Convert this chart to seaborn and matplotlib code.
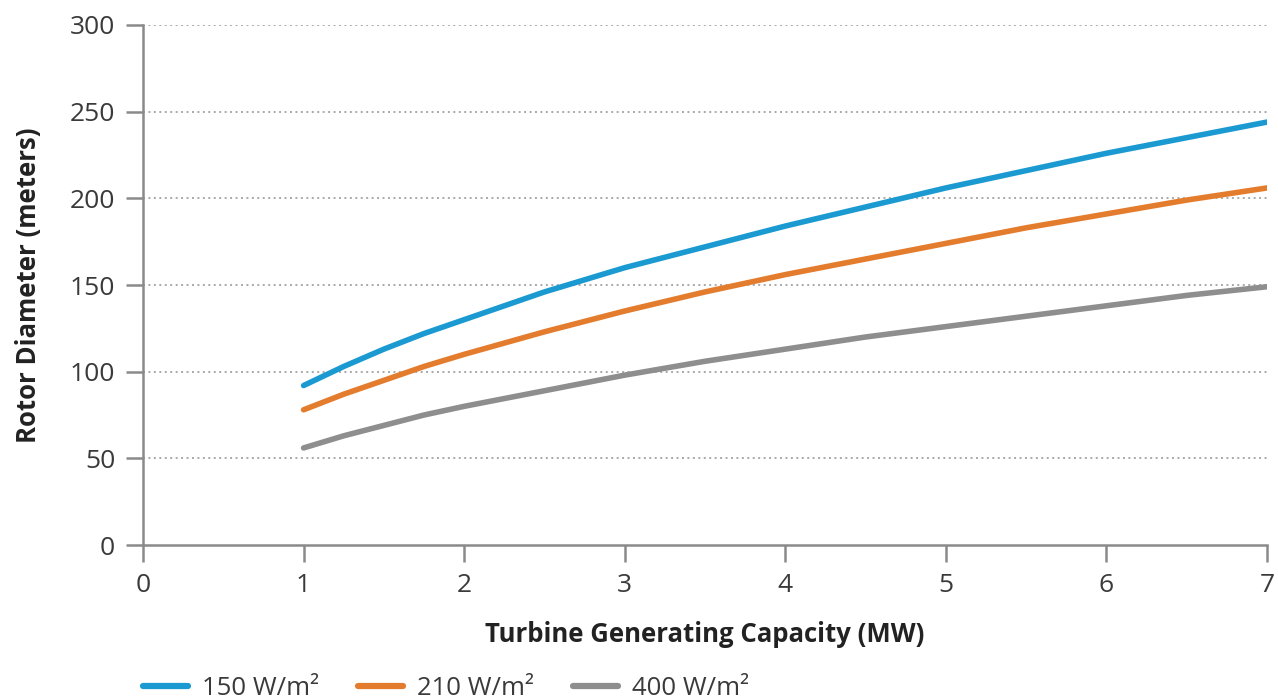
import matplotlib
matplotlib.use("Agg")
import matplotlib.pyplot as plt
import seaborn as sns
import pandas as pd

capacity = [1, 1.25, 1.5, 1.75, 2, 2.5, 3, 3.5, 4, 4.5, 5, 5.5, 6, 6.5, 7]
d150 = [92, 103, 113, 122, 130, 146, 160, 172, 184, 195, 206, 216, 226, 235, 244]
d210 = [78, 87, 95, 103, 110, 123, 135, 146, 156, 165, 174, 183, 191, 199, 206]
d400 = [56, 63, 69, 75, 80, 89, 98, 106, 113, 120, 126, 132, 138, 144, 149]
series_labels = ["150 W/m²", "210 W/m²", "400 W/m²"]
colors = ["#1b9ad2", "#e47c2e", "#8e8e8e"]
x_ticks = [0, 1, 2, 3, 4, 5, 6, 7]
y_ticks = [0, 50, 100, 150, 200, 250, 300]

sns.set_theme(style="white")
plt.rcParams['font.family'] = ['Open Sans', 'DejaVu Sans']

df = pd.DataFrame({
    "x": capacity * 3,
    "y": d150 + d210 + d400,
    "series": [series_labels[0]] * len(capacity) + [series_labels[1]] * len(capacity) + [series_labels[2]] * len(capacity),
})

fig = plt.figure(figsize=(12.78, 7.0), dpi=100)
ax = fig.add_axes([0.1119, 0.2214, 0.8795, 0.7429])

for y in y_ticks[1:]:
    ax.axhline(y, color="#a8a8a8", linestyle=(0, (1.0, 1.8)), linewidth=1.4, zorder=0)

sns.lineplot(data=df, x="x", y="y", hue="series", palette=colors, linewidth=4,
             ax=ax, legend=True, solid_capstyle="round")

ax.set_xlim(0, 7)
ax.set_ylim(0, 300)
ax.set_xticks(x_ticks)
ax.set_yticks(y_ticks)
ax.tick_params(axis="both", bottom=True, left=True, labelsize=19, labelcolor="#3a3a3a",
               length=12, width=1.8, color="#8a8a8a", direction="out")
ax.tick_params(axis="y", pad=8)
ax.tick_params(axis="x", pad=8)
for side in ["top", "right"]:
    ax.spines[side].set_visible(False)
for side in ["left", "bottom"]:
    ax.spines[side].set_color("#8a8a8a")
    ax.spines[side].set_linewidth(1.8)

ax.set_xlabel("Turbine Generating Capacity (MW)", fontsize=18.5, fontweight="bold",
              color="#222222", labelpad=17)
ax.set_ylabel("Rotor Diameter (meters)", fontsize=18.5, fontweight="bold",
              color="#222222", labelpad=20)

handles, labels = ax.get_legend_handles_labels()
ax.legend_.remove()
for h in handles:
    h.set_linewidth(4.5)
fig.legend(handles, labels, loc="lower left", bbox_to_anchor=(0.094, -0.034), ncol=3,
           frameon=False, fontsize=18.5, handlelength=1.75, columnspacing=1.5,
           handletextpad=0.55, labelcolor="#3a3a3a")

fig.savefig("out.png", dpi=100)
